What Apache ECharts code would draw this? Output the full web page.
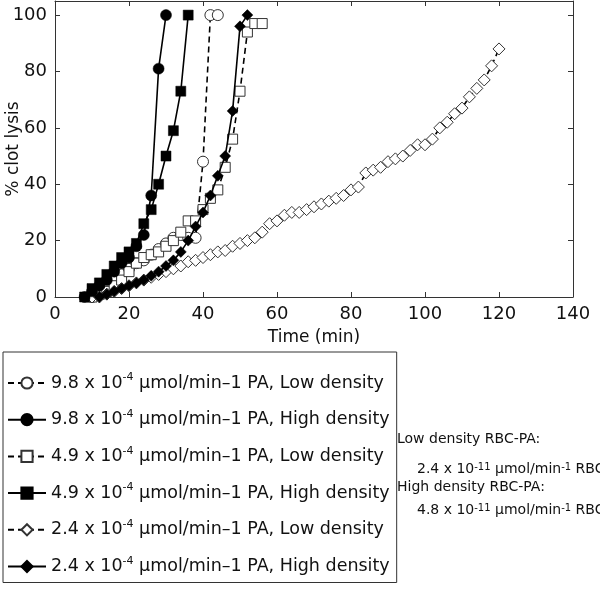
<!DOCTYPE html>
<html><head><meta charset="utf-8">
<script src="https://cdn.jsdelivr.net/npm/echarts@6/dist/echarts.min.js"></script>
<style>html,body{margin:0;padding:0;background:#fff}#c{width:600px;height:590px}</style>
</head><body><div id="c"></div>
<script>
const FONT = 'DejaVu Sans';
const xTicks = [0, 20, 40, 60, 80, 100, 120, 140];
const yTicks = [0, 20, 40, 60, 80, 100];
const xTitle = 'Time (min)';
const yTitle = '% clot lysis';

const names = [
  '9.8 x 10^-4 μmol/min–1 PA, Low density',
  '9.8 x 10^-4 μmol/min–1 PA, High density',
  '4.9 x 10^-4 μmol/min–1 PA, Low density',
  '4.9 x 10^-4 μmol/min–1 PA, High density',
  '2.4 x 10^-4 μmol/min–1 PA, Low density',
  '2.4 x 10^-4 μmol/min–1 PA, High density'
];

// 9.8 low density (open circles, dashed)
const t98Low = [10, 12, 14, 16, 18, 20, 22, 24, 26, 28, 30, 32, 34, 36, 38, 40, 42, 44];
const y98Low = [0, 2, 4, 6, 8, 10, 12, 13, 15, 17, 19, 21, 22, 21, 21, 48, 100, 100];
// 9.8 high density (filled circles, solid)
const t98High = [8, 10, 12, 14, 16, 18, 20, 22, 24, 26, 28, 30];
const y98High = [0, 2, 4, 6, 9, 12, 14, 18, 22, 36, 81, 100];
// 4.9 low density (open squares, dashed)
const t49Low = [10, 12, 14, 16, 18, 20, 22, 24, 26, 28, 30, 32, 34, 36, 38, 40, 42, 44, 46, 48, 50, 52, 54, 56];
const y49Low = [0, 1, 2, 4, 6, 9, 12, 14, 15, 16, 18, 20, 23, 27, 27, 31, 35, 38, 46, 56, 73, 94, 97, 97];
// 4.9 high density (filled squares, solid)
const t49High = [8, 10, 12, 14, 16, 18, 20, 22, 24, 26, 28, 30, 32, 34, 36];
const y49High = [0, 3, 5, 8, 11, 14, 16, 19, 26, 31, 40, 50, 59, 73, 100];
// 2.4 low density (open diamonds, dashed)
const t24Low = [10, 12, 14, 16, 18, 20, 22, 24, 26, 28, 30, 32, 34, 36, 38, 40, 42, 44, 46, 48, 50, 52, 54, 56, 58, 60, 62, 64, 66, 68, 70, 72, 74, 76, 78, 80, 82, 84, 86, 88, 90, 92, 94, 96, 98, 100, 102, 104, 106, 108, 110, 112, 114, 116, 118, 120];
const y24Low = [0, 0, 1, 2, 3, 4, 5, 6, 7, 8, 9, 10, 11, 12.5, 13, 14, 15, 16, 16.5, 18, 19, 20, 21, 23, 26, 27, 29, 30, 30, 31, 32, 33, 34, 35, 36, 38, 39, 44, 45, 46, 48, 49, 50, 52, 54, 54, 56, 60, 62, 65, 67, 71, 74, 77, 82, 88];
// 2.4 high density (filled diamonds, solid)
const t24High = [12, 14, 16, 18, 20, 22, 24, 26, 28, 30, 32, 34, 36, 38, 40, 42, 44, 46, 48, 50, 52];
const y24High = [0, 1, 2, 3, 4, 5, 6, 7.5, 9, 11, 13, 16, 20, 25, 30, 36, 43, 50, 66, 96, 100];

function mk(name, xs, ys, symbol, size, filled, dashed) {
  return {
    name: name, type: 'line', symbol: symbol, symbolSize: size,
    data: xs.map((x, i) => [x, ys[i]]),
    lineStyle: { color: '#000', width: 1.6, type: dashed ? [6, 4] : 'solid' },
    itemStyle: filled ? { color: '#000', borderColor: '#000', borderWidth: 0.5 }
                      : { color: '#fff', borderColor: '#333', borderWidth: 1 },
    emphasis: { disabled: true }, animation: false, z: filled ? 3 : 2
  };
}

const series = [
  mk(names[0], t98Low, y98Low, 'circle', 11, false, true),
  mk(names[1], t98High, y98High, 'circle', 11, true, false),
  mk(names[2], t49Low, y49Low, 'rect', 10, false, true),
  mk(names[3], t49High, y49High, 'rect', 10, true, false),
  mk(names[4], t24Low, y24Low, 'diamond', 12, false, true),
  mk(names[5], t24High, y24High, 'diamond', 11, true, false)
];

const axCol = '#333';
const chart = echarts.init(document.getElementById('c'), null, { renderer: 'canvas' });
chart.setOption({
  animation: false,
  backgroundColor: '#fff',
  textStyle: { fontFamily: FONT },
  grid: { left: 55, right: 27, top: 1, bottom: 293, containLabel: false, outerBoundsMode: 'none' },
  xAxis: [
    { type: 'value', min: 0, max: 140, interval: 20, position: 'bottom',
      name: xTitle, nameLocation: 'middle', nameGap: 32, nameMoveOverlap: false,
      nameTextStyle: { fontSize: 17, color: '#111', fontFamily: FONT },
      axisLine: { show: true, lineStyle: { color: axCol, width: 1 } },
      axisTick: { show: true, inside: true, length: 5, lineStyle: { color: axCol } },
      axisLabel: { fontSize: 18, color: '#111', margin: 8, fontFamily: FONT },
      splitLine: { show: false } },
    { type: 'value', min: 0, max: 140, interval: 20, position: 'top',
      axisLine: { show: true, onZero: false, lineStyle: { color: axCol, width: 1 } },
      axisTick: { show: true, inside: true, length: 5, lineStyle: { color: axCol } },
      axisLabel: { show: false }, splitLine: { show: false } }
  ],
  yAxis: [
    { type: 'value', min: 0, max: 105, interval: 20, position: 'left',
      name: yTitle, nameLocation: 'middle', nameGap: 33, nameRotate: 90, nameMoveOverlap: false,
      nameTextStyle: { fontSize: 17, color: '#111', fontFamily: FONT },
      axisLine: { show: true, lineStyle: { color: axCol, width: 1 } },
      axisTick: { show: true, inside: true, length: 5, lineStyle: { color: axCol } },
      axisLabel: { fontSize: 18, color: '#111', margin: 8, fontFamily: FONT, showMaxLabel: false,
        formatter: v => (yTicks.indexOf(v) >= 0 ? String(v) : '') },
      splitLine: { show: false } },
    { type: 'value', min: 0, max: 105, interval: 20, position: 'right',
      axisLine: { show: true, onZero: false, lineStyle: { color: axCol, width: 1 } },
      axisTick: { show: true, inside: true, length: 5, lineStyle: { color: axCol } },
      axisLabel: { show: false }, splitLine: { show: false } }
  ],
  legend: {
    orient: 'vertical', left: 3, top: 352,
    padding: [20, 7, 5, 4], itemGap: 14.7, itemWidth: 38, itemHeight: 14,
    borderColor: '#333', borderWidth: 1, backgroundColor: '#fff',
    data: names,
    formatter: n => n.replace('^-4', '{sup|-4}'),
    textStyle: { fontSize: 17.5, color: '#111', fontFamily: FONT, lineHeight: 22,
      rich: { sup: { fontSize: 11, lineHeight: 12, verticalAlign: 'top', fontFamily: FONT, color: '#111' } } }
  },
  graphic: [
    { type: 'text', x: 397, y: 439, style: { text: 'Low density RBC-PA:', fontSize: 14, fontFamily: FONT, fill: '#111', verticalAlign: 'middle' } },
    { type: 'text', x: 417, y: 469, style: { text: '2.4 x 10{sup|-11} μmol/min{sup|-1} RBC', fontSize: 14, fontFamily: FONT, fill: '#111', verticalAlign: 'middle',
      rich: { sup: { fontSize: 10, lineHeight: 10, verticalAlign: 'top', fontFamily: FONT, fill: '#111' } } } },
    { type: 'text', x: 397, y: 487, style: { text: 'High density RBC-PA:', fontSize: 14, fontFamily: FONT, fill: '#111', verticalAlign: 'middle' } },
    { type: 'text', x: 417, y: 510, style: { text: '4.8 x 10{sup|-11} μmol/min{sup|-1} RBC', fontSize: 14, fontFamily: FONT, fill: '#111', verticalAlign: 'middle',
      rich: { sup: { fontSize: 10, lineHeight: 10, verticalAlign: 'top', fontFamily: FONT, fill: '#111' } } } }
  ],
  series: series
});
</script></body></html>
